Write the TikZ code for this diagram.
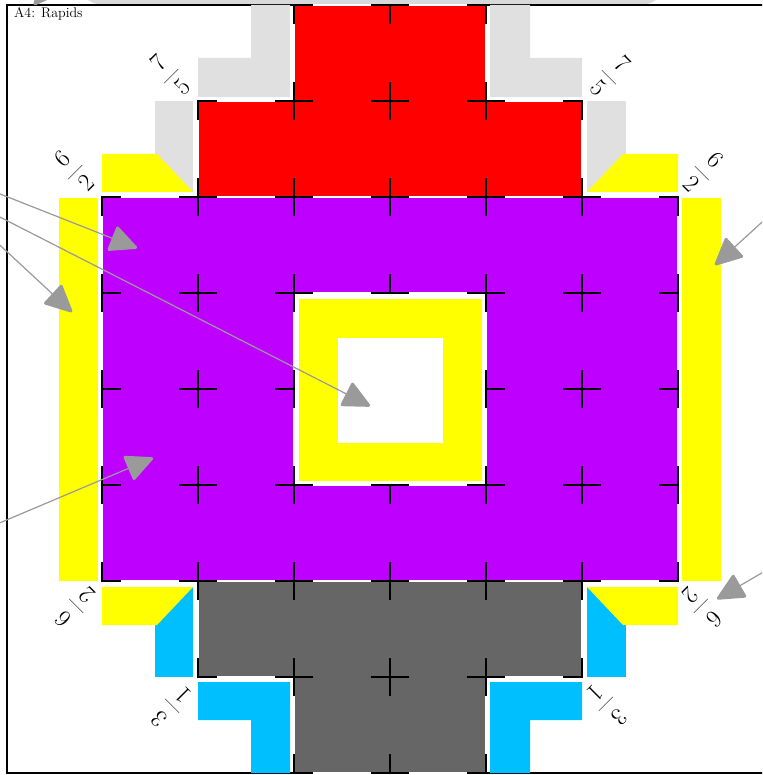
\documentclass[tikz,border=0pt]{standalone}
\usetikzlibrary{arrows.meta}
\definecolor{rred}{HTML}{FF0000}
\definecolor{ppurple}{HTML}{BD00FF}
\definecolor{yyellow}{HTML}{FFFF00}
\definecolor{dgray}{HTML}{666666}
\definecolor{ccyan}{HTML}{00BFFF}
\definecolor{lgray}{HTML}{E0E0E0}
\definecolor{bandgray}{HTML}{D9D9D9}
\definecolor{agray}{HTML}{9A9A9A}
\newcommand{\myfrac}[2]{$\displaystyle\frac{\,#1\,}{\,#2\,}$}
\begin{document}
\begin{tikzpicture}[x=1pt,y=-1pt,
  tickmark/.style={black,line width=1.5pt},
  region/.style={draw=white,line width=1.2pt},
  lbl/.style={font=\fontsize{23}{27}\selectfont,inner sep=0pt},
  annot/.style={draw=agray,fill=agray,line width=1.2pt,
    -{Triangle[length=29pt,width=27pt,round,line width=3pt]}}
]
\useasboundingbox (0,0) rectangle (762,775);
\clip (0,0) rectangle (762,775);
% top band (cut off)
\fill[bandgray,rounded corners=28pt] (76,-60) rectangle (668,5);
% frame
\draw[line width=1.2pt] (7,5) rectangle (773,773);
\node[font=\fontsize{14}{16}\selectfont,anchor=base west,inner sep=0pt] (title) at (14,18) {A4: Rapids};
% red region
\path[region,fill=rred] (294,5) -- (486,5) -- (486,101) -- (582,101) -- (582,197) -- (198,197) -- (198,101) -- (294,101) -- cycle;
% purple region with hole
\path[region,fill=ppurple,even odd rule] (102,197) rectangle (678,581) (294,293) rectangle (486,485);
\fill[yyellow] (299,299) rectangle (482,481);
\fill[white] (338,338) rectangle (443,443);
% dark gray region
\path[region,fill=dgray] (198,581) -- (582,581) -- (582,677) -- (486,677) -- (486,773) -- (294,773) -- (294,677) -- (198,677) -- cycle;
% top light gray L pieces
\fill[lgray] (251,5) -- (290,5) -- (290,97) -- (198,97) -- (198,58) -- (251,58) -- cycle;
\fill[lgray] (490,5) -- (530,5) -- (530,58) -- (582,58) -- (582,97) -- (490,97) -- cycle;
% upper corner pieces
\fill[lgray] (155,101) rectangle (193,192);
\fill[yyellow] (102,154) -- (157,154) -- (193,192) -- (102,192) -- cycle;
\fill[lgray] (587,101) rectangle (626,192);
\fill[yyellow] (587,192) -- (623,154) -- (678,154) -- (678,192) -- cycle;
% side yellow bars
\fill[yyellow] (59,198) rectangle (98,581);
\fill[yyellow] (682,198) rectangle (721,581);
% lower corner pieces
\fill[ccyan] (155,587) rectangle (193,677);
\fill[yyellow] (102,587) -- (193,587) -- (157,625) -- (102,625) -- cycle;
\fill[ccyan] (587,587) rectangle (626,677);
\fill[yyellow] (587,587) -- (678,587) -- (678,625) -- (623,625) -- cycle;
% bottom cyan L pieces
\fill[ccyan] (198,682) -- (290,682) -- (290,773) -- (251,773) -- (251,720) -- (198,720) -- cycle;
\fill[ccyan] (490,682) -- (582,682) -- (582,720) -- (530,720) -- (530,773) -- (490,773) -- cycle;
% cell corner ticks
\foreach \c/\r in {2/0,3/0,1/1,2/1,3/1,4/1,
  0/2,1/2,2/2,3/2,4/2,5/2,0/3,1/3,4/3,5/3,0/4,1/4,4/4,5/4,
  0/5,1/5,2/5,3/5,4/5,5/5,1/6,2/6,3/6,4/6,2/7,3/7}{
  \begin{scope}[shift={({102+96*\c},{5+96*\r})}]
    \draw[tickmark] (0,19) -- (0,0) -- (19,0);
    \draw[tickmark] (77,0) -- (96,0) -- (96,19);
    \draw[tickmark] (96,77) -- (96,96) -- (77,96);
    \draw[tickmark] (19,96) -- (0,96) -- (0,77);
  \end{scope}
}
% labels
\node[lbl,rotate=45] (la) at (170,75) {\myfrac{7}{5}};
\node[lbl,rotate=-45] (lb) at (610,76) {\myfrac{7}{5}};
\node[lbl,rotate=45] (lc) at (74,171) {\myfrac{6}{2}};
\node[lbl,rotate=-45] (ld) at (703,172) {\myfrac{6}{2}};
\node[lbl,rotate=135] (le) at (75,607) {\myfrac{6}{2}};
\node[lbl,rotate=-135] (lf) at (702,607) {\myfrac{6}{2}};
\node[lbl,rotate=135] (lg) at (171,707) {\myfrac{3}{1}};
\node[lbl,rotate=-135] (lh) at (607,705) {\myfrac{3}{1}};
% annotation arrows
\coordinate (s0) at (80,-50); \coordinate (t0) at (34,5);
\coordinate (s1) at (-10,190); \coordinate (t1) at (137,248);
\coordinate (s2) at (-10,212); \coordinate (t2) at (370,406);
\coordinate (s3) at (-10,236); \coordinate (t3) at (72,312);
\coordinate (s4) at (-10,527); \coordinate (t4) at (153,458);
\coordinate (s5) at (772,213); \coordinate (t5) at (715,265);
\coordinate (s6) at (772,567); \coordinate (t6) at (717,599);
\foreach \i in {0,...,6}{ \draw[annot] (s\i) -- (t\i); }
\end{tikzpicture}
\end{document}
